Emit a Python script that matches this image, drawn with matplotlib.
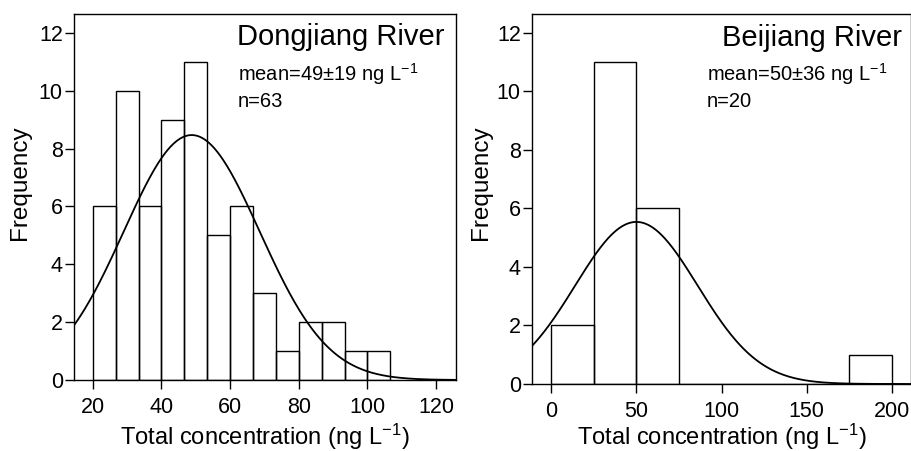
import matplotlib
matplotlib.use("Agg")
import matplotlib.pyplot as plt
import numpy as np

plt.rcParams['font.family'] = ['Liberation Sans', 'DejaVu Sans']
plt.rcParams['mathtext.fontset'] = 'custom'
plt.rcParams['mathtext.rm'] = 'Liberation Sans'
plt.rcParams['mathtext.it'] = 'Liberation Sans:italic'

# Dongjiang River histogram
dj_edges = [20, 26.67, 33.33, 40, 46.67, 53.33, 60, 66.67, 73.33, 80, 86.67, 93.33, 100, 106.67]
dj_counts = [6, 10, 6, 9, 11, 5, 6, 3, 1, 2, 2, 1, 1]
dj_mean, dj_sd, dj_n = 48.8, 19.8, 63

# Beijiang River histogram
bj_edges = [0, 25, 50, 75, 100, 125, 150, 175, 200]
bj_counts = [2, 11, 6, 0, 0, 0, 0, 1]
bj_mean, bj_sd, bj_n = 50, 36, 20

yticks = [0, 2, 4, 6, 8, 10, 12]


def panel(ax, edges, counts, mu, sd, n, xlim, xticks, title, stats, pos):
    edges = np.array(edges, float)
    w = np.diff(edges)
    ax.bar(edges[:-1], counts, width=w, align='edge', fill=False,
           edgecolor='black', linewidth=1.0)
    # fitted normal curve scaled to counts
    xs = np.linspace(xlim[0], xlim[1], 400)
    ys = n * w[0] / (sd * np.sqrt(2 * np.pi)) * np.exp(-0.5 * ((xs - mu) / sd) ** 2)
    ax.plot(xs, ys, color='black', linewidth=1.3)
    ax.set_xlim(xlim)
    ax.set_ylim(0, 12.65)
    ax.set_xticks(xticks)
    ax.set_yticks(yticks)
    ax.tick_params(direction='out', length=6.5, width=1, labelsize=15.5, colors='black')
    ax.tick_params(axis='y', pad=1.5)
    ax.tick_params(axis='x', pad=6)
    for s in ax.spines.values():
        s.set_linewidth(1.0)
    ax.text(pos[0], pos[1], title, transform=ax.transAxes, ha='right',
            va='baseline', fontsize=21)
    ax.text(pos[2], pos[3], stats[0], transform=ax.transAxes, ha='left',
            va='baseline', fontsize=14.5)
    ax.text(pos[2], pos[4], stats[1], transform=ax.transAxes, ha='left',
            va='baseline', fontsize=14.5)


fig = plt.figure(figsize=(9.12, 4.51), dpi=100)
ax1 = fig.add_axes([0.0811, 0.1574, 0.4189, 0.8115])
ax2 = fig.add_axes([0.5833, 0.1486, 0.4156, 0.8204])

panel(ax1, dj_edges, dj_counts, dj_mean, dj_sd, dj_n, (14.5, 125.8),
      [20, 40, 60, 80, 100, 120], 'Dongjiang River',
      ['mean=49\u00b119 ng L$^{-1}$', 'n=63'], (0.969, 0.915, 0.429, 0.817, 0.746))
panel(ax2, bj_edges, bj_counts, bj_mean, bj_sd, bj_n, (-11.3, 211.2),
      [0, 50, 100, 150, 200], 'Beijiang River',
      ['mean=50\u00b136 ng L$^{-1}$', 'n=20'], (0.976, 0.914, 0.461, 0.819, 0.749))

xlab = 'Total concentration (ng L$^{-1}$)'
for xc in (0.2906, 0.7911):
    fig.text(xc, 0.013, xlab, ha='center', va='baseline', fontsize=17)
for xc in (0.0219, 0.5274):
    fig.text(xc, 0.596, 'Frequency', ha='center', va='center', rotation=90, fontsize=17.5)

fig.savefig('out.png', dpi=100)
